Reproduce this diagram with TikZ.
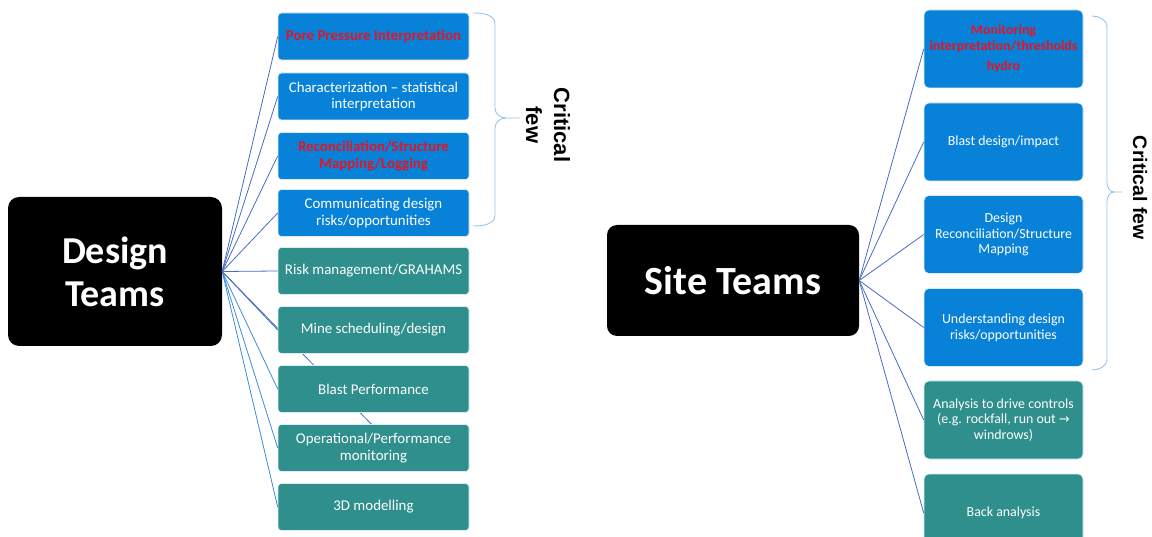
\documentclass[tikz,border=0pt]{standalone}
\usepackage{fontspec}
\setmainfont{Carlito}
\newfontfamily\arialfont{Liberation Sans}
\newfontfamily\symfont{DejaVu Sans}
\usetikzlibrary{backgrounds}
\definecolor{boxblue}{RGB}{8,130,216}
\definecolor{boxteal}{RGB}{46,143,140}
\definecolor{redtxt}{RGB}{226,20,38}
\definecolor{linedark}{RGB}{72,108,192}
\definecolor{linelight}{RGB}{60,140,212}
\definecolor{bracecol}{RGB}{150,196,236}
\tikzset{
  teambox/.style={rectangle, rounded corners=11pt, fill=black, text=white, font=\bfseries, align=center, inner sep=0pt},
  lbox/.style={rectangle, rounded corners=3.5pt, draw=white!85!boxblue, line width=0.6pt, text=white, align=center, minimum width=191pt, minimum height=47pt, inner sep=1pt, font=\fontsize{14.9}{16.3}\selectfont},
  rbox/.style={rectangle, rounded corners=5pt, draw=white!85!boxblue, line width=0.6pt, text=white, align=center, minimum width=159pt, minimum height=78pt, inner sep=1pt, font=\fontsize{13.9}{15.8}\selectfont},
  blueb/.style={fill=boxblue},
  tealb/.style={fill=boxteal},
  redt/.style={text=redtxt, font=\fontsize{14.9}{16.3}\selectfont\bfseries},
  redtr/.style={text=redtxt, font=\fontsize{13.9}{16.2}\selectfont\bfseries},
  conn/.style={draw=linedark, line width=0.8pt},
  connl/.style={draw=linelight, line width=0.8pt},
  bracket/.style={draw=bracecol, line width=0.9pt},
  crit/.style={rotate=-90, align=center, inner sep=0pt}
}
\begin{document}
\begin{tikzpicture}[x=1pt,y=-1pt]
\useasboundingbox (0,0) rectangle (1152,537);
\clip (0,0) rectangle (1152,537);
% Left team
\node[teambox, minimum width=214pt, minimum height=149pt, font=\bfseries\fontsize{38}{43}\selectfont] (design) at (115,271.5) {Design\\Teams};
\node[lbox, blueb, redt] (d1) at (373.5,36.5) {Pore Pressure Interpretation};
\node[lbox, blueb] (d2) at (373.5,96.5) {Characterization -- statistical\\interpretation};
\node[lbox, blueb, redt] (d3) at (373.5,156) {Reconciliation/Structure\\Mapping/Logging};
\node[lbox, blueb] (d4) at (373.5,213) {Communicating design\\risks/opportunities};
\node[lbox, tealb] (d5) at (373.5,271) {Risk management/GRAHAMS};
\node[lbox, tealb] (d6) at (373.5,330) {Mine scheduling/design};
\node[lbox, tealb] (d7) at (373.5,389) {Blast Performance};
\node[lbox, tealb] (d8) at (373.5,448) {Operational/Performance\\monitoring};
\node[lbox, tealb] (d9) at (373.5,507) {3D modelling};
\coordinate (hid) at (380,433);
\begin{pgfonlayer}{background}
\draw[conn] (design.east) -- (hid);
\end{pgfonlayer}
\foreach \n in {d1,d2,d3,d4,d5,d6}{\draw[conn] (design.east) -- (\n.west);}
\foreach \n in {d7,d8,d9}{\draw[connl] (design.east) -- (\n.west);}
% left bracket
\coordinate (lb1) at (473,13);
\coordinate (lbt) at (520,118);
\coordinate (lb2) at (473,226);
\draw[bracket] (lb1) to[out=0,in=90] (495,24) -- (495,108) to[out=-90,in=180] (506,118) -- (lbt);
\draw[bracket] (506,118) to[out=180,in=90] (495,128) -- (495,215) to[out=-90,in=0] (lb2);
\node[crit, font=\arialfont\bfseries\fontsize{22}{28}\selectfont] (critl) at (548,125) {Critical\\few};
% Right team
\node[teambox, minimum width=252pt, minimum height=111pt, rounded corners=10pt, font=\bfseries\fontsize{40}{44}\selectfont] (site) at (733,280.5) {Site Teams};
\node[rbox, blueb, redtr] (s1) at (1003.5,49) {Monitoring\\interpretation/thresholds\\[4pt]hydro};
\node[rbox, blueb] (s2) at (1003.5,142) {Blast design/impact};
\node[rbox, blueb] (s3) at (1003.5,234.5) {Design\\Reconciliation/Structure\\Mapping};
\node[rbox, blueb] (s4) at (1003.5,327.5) {Understanding design\\risks/opportunities};
\node[rbox, tealb] (s5) at (1003.5,420) {Analysis to drive controls\\(e.g. rockfall, run out {\symfont\fontsize{13}{14}\selectfont →}\\windrows)};
\node[rbox, tealb] (s6) at (1003.5,513) {Back analysis};
\foreach \n in {s1,s2,s3,s4,s5,s6}{\draw[conn] (site.east) -- (\n.west);}
% right bracket
\coordinate (rb1) at (1092,16);
\coordinate (rbt) at (1122,192);
\coordinate (rb2) at (1092,370);
\draw[bracket] (rb1) to[out=0,in=90] (1107,27) -- (1107,182) to[out=-90,in=180] (1114,192) -- (rbt);
\draw[bracket] (1114,192) to[out=180,in=90] (1107,202) -- (1107,359) to[out=-90,in=0] (rb2);
\node[crit, font=\arialfont\bfseries\fontsize{19.5}{24}\selectfont] (critr) at (1140,188) {Critical few};
\end{tikzpicture}
\end{document}
